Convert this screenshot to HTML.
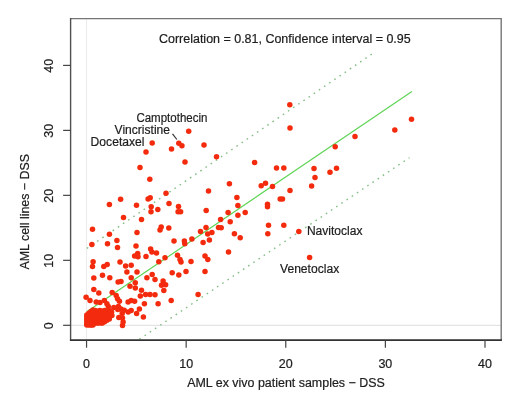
<!DOCTYPE html>
<html lang="en"><head><meta charset="utf-8"><title>AML DSS correlation</title>
<style>html,body{margin:0;padding:0;background:#fff;overflow:hidden}svg{display:block}text{font-family:"Liberation Sans",Arial,Helvetica,sans-serif;font-size:12.5px;fill:#202020;stroke:#202020;stroke-width:0.2px}</style>
</head><body>
<svg width="520" height="408" viewBox="0 0 520 408">
<defs><filter id="soft" x="0" y="0" width="520" height="408" filterUnits="userSpaceOnUse"><feGaussianBlur stdDeviation="0.5"/></filter></defs>
<rect width="520" height="408" fill="#ffffff"/>
<g filter="url(#soft)">
<line x1="86.55" y1="18.6" x2="86.55" y2="340.2" stroke="#ececec" stroke-width="1"/>
<line x1="70.6" y1="325.3" x2="501.2" y2="325.3" stroke="#dedede" stroke-width="1"/>
<line x1="86.75" y1="311.8" x2="411.9" y2="91.5" stroke="#5fd455" stroke-width="1.2"/>
<g stroke="#84bd86" stroke-width="1.4" stroke-dasharray="1.6 4.64" fill="none">
<line x1="86.9" y1="248.4" x2="372" y2="53.96"/>
<line x1="139.4" y1="339.2" x2="409.4" y2="157.7"/>
</g>
<g fill="#f32b0a">
<circle cx="93.8" cy="289.4" r="2.75"/>
<circle cx="98.8" cy="293.1" r="2.75"/>
<circle cx="86.1" cy="297.3" r="2.75"/>
<circle cx="90.0" cy="300.6" r="2.75"/>
<circle cx="112.2" cy="292.5" r="2.75"/>
<circle cx="116.2" cy="295.6" r="2.75"/>
<circle cx="117.5" cy="298.8" r="2.75"/>
<circle cx="119.4" cy="301.2" r="2.75"/>
<circle cx="130.0" cy="286.2" r="2.75"/>
<circle cx="135.3" cy="288.0" r="2.75"/>
<circle cx="141.5" cy="290.3" r="2.75"/>
<circle cx="128.1" cy="301.9" r="2.75"/>
<circle cx="131.2" cy="300.6" r="2.75"/>
<circle cx="134.6" cy="301.2" r="2.75"/>
<circle cx="144.4" cy="303.8" r="2.75"/>
<circle cx="139.4" cy="309.0" r="2.75"/>
<circle cx="136.6" cy="313.4" r="2.75"/>
<circle cx="131.2" cy="310.6" r="2.75"/>
<circle cx="128.2" cy="311.9" r="2.75"/>
<circle cx="143.4" cy="316.9" r="2.75"/>
<circle cx="96.2" cy="301.9" r="2.75"/>
<circle cx="100.0" cy="302.5" r="2.75"/>
<circle cx="104.4" cy="300.6" r="2.75"/>
<circle cx="106.9" cy="303.8" r="2.75"/>
<circle cx="113.8" cy="307.5" r="2.75"/>
<circle cx="117.8" cy="309.4" r="2.75"/>
<circle cx="121.0" cy="309.0" r="2.75"/>
<circle cx="124.2" cy="310.3" r="2.75"/>
<circle cx="118.4" cy="306.4" r="2.75"/>
<circle cx="122.2" cy="313.4" r="2.75"/>
<circle cx="111.6" cy="312.0" r="2.75"/>
<circle cx="111.9" cy="315.6" r="2.75"/>
<circle cx="108.3" cy="306.4" r="2.75"/>
<circle cx="118.8" cy="317.5" r="2.75"/>
<circle cx="122.5" cy="318.1" r="2.75"/>
<circle cx="123.1" cy="321.9" r="2.75"/>
<circle cx="122.5" cy="325.6" r="2.75"/>
<circle cx="140.3" cy="296.0" r="2.75"/>
<circle cx="145.6" cy="294.5" r="2.75"/>
<circle cx="150.0" cy="294.4" r="2.75"/>
<circle cx="155.0" cy="294.8" r="2.75"/>
<circle cx="163.8" cy="290.6" r="2.75"/>
<circle cx="158.1" cy="303.8" r="2.75"/>
<circle cx="171.2" cy="300.6" r="2.75"/>
<circle cx="198.1" cy="294.4" r="2.75"/>
<circle cx="161.5" cy="285.3" r="2.75"/>
<circle cx="165.6" cy="284.7" r="2.75"/>
<circle cx="163.1" cy="280.9" r="2.75"/>
<circle cx="203.1" cy="242.5" r="2.75"/>
<circle cx="209.4" cy="240.0" r="2.75"/>
<circle cx="240.2" cy="237.8" r="2.75"/>
<circle cx="228.5" cy="251.9" r="2.75"/>
<circle cx="205.0" cy="255.9" r="2.75"/>
<circle cx="207.8" cy="259.6" r="2.75"/>
<circle cx="205.0" cy="271.5" r="2.75"/>
<circle cx="234.4" cy="233.8" r="2.75"/>
<circle cx="200.5" cy="231.5" r="2.75"/>
<circle cx="207.7" cy="234.0" r="2.75"/>
<circle cx="211.9" cy="232.5" r="2.75"/>
<circle cx="91.9" cy="244.6" r="2.75"/>
<circle cx="107.5" cy="243.8" r="2.75"/>
<circle cx="109.4" cy="234.2" r="2.75"/>
<circle cx="116.9" cy="240.5" r="2.75"/>
<circle cx="117.5" cy="247.5" r="2.75"/>
<circle cx="93.1" cy="261.8" r="2.75"/>
<circle cx="92.5" cy="266.5" r="2.75"/>
<circle cx="103.8" cy="266.5" r="2.75"/>
<circle cx="107.2" cy="264.6" r="2.75"/>
<circle cx="120.0" cy="262.1" r="2.75"/>
<circle cx="125.6" cy="265.9" r="2.75"/>
<circle cx="131.2" cy="265.2" r="2.75"/>
<circle cx="126.9" cy="272.1" r="2.75"/>
<circle cx="93.8" cy="278.1" r="2.75"/>
<circle cx="102.5" cy="275.2" r="2.75"/>
<circle cx="109.8" cy="277.8" r="2.75"/>
<circle cx="118.1" cy="282.1" r="2.75"/>
<circle cx="121.0" cy="281.5" r="2.75"/>
<circle cx="131.2" cy="277.8" r="2.75"/>
<circle cx="136.0" cy="246.0" r="2.75"/>
<circle cx="134.6" cy="255.9" r="2.75"/>
<circle cx="137.7" cy="253.4" r="2.75"/>
<circle cx="138.0" cy="256.8" r="2.75"/>
<circle cx="146.0" cy="256.5" r="2.75"/>
<circle cx="150.6" cy="249.0" r="2.75"/>
<circle cx="151.9" cy="252.1" r="2.75"/>
<circle cx="156.5" cy="253.0" r="2.75"/>
<circle cx="158.8" cy="261.8" r="2.75"/>
<circle cx="165.0" cy="257.8" r="2.75"/>
<circle cx="174.0" cy="240.9" r="2.75"/>
<circle cx="184.4" cy="240.9" r="2.75"/>
<circle cx="184.8" cy="243.8" r="2.75"/>
<circle cx="191.9" cy="239.0" r="2.75"/>
<circle cx="177.5" cy="255.2" r="2.75"/>
<circle cx="180.0" cy="259.6" r="2.75"/>
<circle cx="181.0" cy="262.1" r="2.75"/>
<circle cx="191.0" cy="261.5" r="2.75"/>
<circle cx="186.0" cy="271.5" r="2.75"/>
<circle cx="172.2" cy="272.8" r="2.75"/>
<circle cx="178.8" cy="275.0" r="2.75"/>
<circle cx="137.0" cy="272.0" r="2.75"/>
<circle cx="146.9" cy="277.8" r="2.75"/>
<circle cx="152.2" cy="274.6" r="2.75"/>
<circle cx="155.0" cy="279.6" r="2.75"/>
<circle cx="135.3" cy="282.8" r="2.75"/>
<circle cx="309.6" cy="257.5" r="2.75"/>
<circle cx="272.5" cy="186.5" r="2.75"/>
<circle cx="290.0" cy="190.5" r="2.75"/>
<circle cx="311.6" cy="186.1" r="2.75"/>
<circle cx="280.2" cy="199.0" r="2.75"/>
<circle cx="282.5" cy="199.0" r="2.75"/>
<circle cx="267.5" cy="204.2" r="2.75"/>
<circle cx="267.5" cy="206.8" r="2.75"/>
<circle cx="268.5" cy="225.2" r="2.75"/>
<circle cx="283.8" cy="225.2" r="2.75"/>
<circle cx="298.8" cy="231.5" r="2.75"/>
<circle cx="267.8" cy="233.8" r="2.75"/>
<circle cx="120.6" cy="199.2" r="2.75"/>
<circle cx="109.4" cy="204.5" r="2.75"/>
<circle cx="123.5" cy="217.4" r="2.75"/>
<circle cx="92.5" cy="229.2" r="2.75"/>
<circle cx="136.5" cy="205.2" r="2.75"/>
<circle cx="148.1" cy="199.0" r="2.75"/>
<circle cx="150.2" cy="197.8" r="2.75"/>
<circle cx="166.0" cy="193.2" r="2.75"/>
<circle cx="169.0" cy="203.6" r="2.75"/>
<circle cx="151.2" cy="206.8" r="2.75"/>
<circle cx="151.0" cy="211.8" r="2.75"/>
<circle cx="157.8" cy="209.5" r="2.75"/>
<circle cx="178.5" cy="206.5" r="2.75"/>
<circle cx="178.1" cy="211.8" r="2.75"/>
<circle cx="180.6" cy="211.8" r="2.75"/>
<circle cx="141.5" cy="219.6" r="2.75"/>
<circle cx="160.0" cy="229.9" r="2.75"/>
<circle cx="161.2" cy="227.0" r="2.75"/>
<circle cx="168.8" cy="228.0" r="2.75"/>
<circle cx="137.0" cy="232.5" r="2.75"/>
<circle cx="208.5" cy="191.1" r="2.75"/>
<circle cx="229.4" cy="183.8" r="2.75"/>
<circle cx="261.2" cy="185.8" r="2.75"/>
<circle cx="265.5" cy="183.2" r="2.75"/>
<circle cx="236.9" cy="197.4" r="2.75"/>
<circle cx="237.9" cy="205.5" r="2.75"/>
<circle cx="206.2" cy="210.5" r="2.75"/>
<circle cx="228.1" cy="212.4" r="2.75"/>
<circle cx="245.2" cy="212.6" r="2.75"/>
<circle cx="237.9" cy="215.2" r="2.75"/>
<circle cx="220.6" cy="219.6" r="2.75"/>
<circle cx="230.2" cy="221.8" r="2.75"/>
<circle cx="218.5" cy="227.4" r="2.75"/>
<circle cx="221.2" cy="227.8" r="2.75"/>
<circle cx="206.0" cy="227.4" r="2.75"/>
<circle cx="355.0" cy="136.4" r="2.75"/>
<circle cx="335.2" cy="146.8" r="2.75"/>
<circle cx="336.5" cy="168.2" r="2.75"/>
<circle cx="330.0" cy="172.2" r="2.75"/>
<circle cx="394.8" cy="129.9" r="2.75"/>
<circle cx="411.5" cy="119.2" r="2.75"/>
<circle cx="152.2" cy="143.0" r="2.75"/>
<circle cx="146.0" cy="152.0" r="2.75"/>
<circle cx="171.5" cy="148.9" r="2.75"/>
<circle cx="178.8" cy="143.2" r="2.75"/>
<circle cx="181.9" cy="145.8" r="2.75"/>
<circle cx="188.7" cy="131.2" r="2.75"/>
<circle cx="185.0" cy="162.0" r="2.75"/>
<circle cx="140.0" cy="167.4" r="2.75"/>
<circle cx="149.8" cy="179.2" r="2.75"/>
<circle cx="204.0" cy="145.1" r="2.75"/>
<circle cx="216.5" cy="156.8" r="2.75"/>
<circle cx="254.6" cy="162.4" r="2.75"/>
<circle cx="276.5" cy="168.0" r="2.75"/>
<circle cx="283.8" cy="168.0" r="2.75"/>
<circle cx="314.0" cy="168.5" r="2.75"/>
<circle cx="315.0" cy="177.6" r="2.75"/>
<circle cx="289.8" cy="104.8" r="2.75"/>
<circle cx="290.0" cy="127.9" r="2.75"/>
<circle cx="86.8" cy="314.9" r="2.75"/>
<circle cx="86.8" cy="317.1" r="2.75"/>
<circle cx="86.8" cy="319.3" r="2.75"/>
<circle cx="86.8" cy="321.5" r="2.75"/>
<circle cx="86.8" cy="323.7" r="2.75"/>
<circle cx="86.8" cy="325.0" r="2.75"/>
<circle cx="88.9" cy="313.3" r="2.75"/>
<circle cx="88.9" cy="315.5" r="2.75"/>
<circle cx="88.9" cy="317.7" r="2.75"/>
<circle cx="88.9" cy="319.9" r="2.75"/>
<circle cx="88.9" cy="322.1" r="2.75"/>
<circle cx="88.9" cy="324.3" r="2.75"/>
<circle cx="88.9" cy="325.0" r="2.75"/>
<circle cx="91.0" cy="311.6" r="2.75"/>
<circle cx="91.0" cy="313.8" r="2.75"/>
<circle cx="91.0" cy="316.0" r="2.75"/>
<circle cx="91.0" cy="318.2" r="2.75"/>
<circle cx="91.0" cy="320.4" r="2.75"/>
<circle cx="91.0" cy="322.6" r="2.75"/>
<circle cx="91.0" cy="324.8" r="2.75"/>
<circle cx="91.0" cy="325.0" r="2.75"/>
<circle cx="93.0" cy="310.1" r="2.75"/>
<circle cx="93.0" cy="312.3" r="2.75"/>
<circle cx="93.0" cy="314.5" r="2.75"/>
<circle cx="93.0" cy="316.7" r="2.75"/>
<circle cx="93.0" cy="318.9" r="2.75"/>
<circle cx="93.0" cy="321.1" r="2.75"/>
<circle cx="93.0" cy="323.3" r="2.75"/>
<circle cx="93.0" cy="325.0" r="2.75"/>
<circle cx="95.2" cy="310.6" r="2.75"/>
<circle cx="95.2" cy="312.9" r="2.75"/>
<circle cx="95.2" cy="315.2" r="2.75"/>
<circle cx="95.2" cy="317.5" r="2.75"/>
<circle cx="95.2" cy="319.8" r="2.75"/>
<circle cx="95.2" cy="322.1" r="2.75"/>
<circle cx="95.2" cy="323.0" r="2.75"/>
<circle cx="97.5" cy="311.2" r="2.75"/>
<circle cx="97.5" cy="318.1" r="2.75"/>
<circle cx="97.5" cy="320.4" r="2.75"/>
<circle cx="97.5" cy="322.7" r="2.75"/>
<circle cx="97.5" cy="323.0" r="2.75"/>
<circle cx="99.9" cy="310.6" r="2.75"/>
<circle cx="99.9" cy="315.2" r="2.75"/>
<circle cx="99.9" cy="317.5" r="2.75"/>
<circle cx="99.9" cy="319.8" r="2.75"/>
<circle cx="99.9" cy="322.1" r="2.75"/>
<circle cx="99.9" cy="323.0" r="2.75"/>
<circle cx="102.2" cy="311.2" r="2.75"/>
<circle cx="102.2" cy="313.5" r="2.75"/>
<circle cx="102.2" cy="315.8" r="2.75"/>
<circle cx="102.2" cy="318.1" r="2.75"/>
<circle cx="102.2" cy="320.4" r="2.75"/>
<circle cx="102.2" cy="322.7" r="2.75"/>
<circle cx="102.2" cy="323.0" r="2.75"/>
<circle cx="104.6" cy="310.6" r="2.75"/>
<circle cx="104.6" cy="312.9" r="2.75"/>
<circle cx="104.6" cy="315.2" r="2.75"/>
<circle cx="104.6" cy="317.5" r="2.75"/>
<circle cx="104.6" cy="319.8" r="2.75"/>
<circle cx="104.6" cy="321.7" r="2.75"/>
<circle cx="106.9" cy="311.2" r="2.75"/>
<circle cx="106.9" cy="313.5" r="2.75"/>
<circle cx="106.9" cy="315.8" r="2.75"/>
<circle cx="106.9" cy="318.1" r="2.75"/>
<circle cx="106.9" cy="320.3" r="2.75"/>
<circle cx="109.3" cy="310.6" r="2.75"/>
<circle cx="109.3" cy="312.9" r="2.75"/>
<circle cx="109.3" cy="315.2" r="2.75"/>
<circle cx="109.3" cy="317.5" r="2.75"/>
<circle cx="109.3" cy="318.9" r="2.75"/>
</g>
<path d="M70.6 18.6H501.2V340.2" fill="none" stroke="#767676" stroke-width="1.4"/>
<path d="M70.6 17.900000000000002V340.2" fill="none" stroke="#505050" stroke-width="1.4"/>
<path d="M69.89999999999999 340.2H501.9" fill="none" stroke="#333333" stroke-width="1.7"/>
<g stroke="#444444" stroke-width="1.2">
<line x1="86.55" y1="340.2" x2="86.55" y2="347.7"/>
<line x1="70.6" y1="325.30" x2="63.099999999999994" y2="325.30"/>
<line x1="186.16" y1="340.2" x2="186.16" y2="347.7"/>
<line x1="70.6" y1="260.33" x2="63.099999999999994" y2="260.33"/>
<line x1="285.77" y1="340.2" x2="285.77" y2="347.7"/>
<line x1="70.6" y1="195.35" x2="63.099999999999994" y2="195.35"/>
<line x1="385.38" y1="340.2" x2="385.38" y2="347.7"/>
<line x1="70.6" y1="130.38" x2="63.099999999999994" y2="130.38"/>
<line x1="484.99" y1="340.2" x2="484.99" y2="347.7"/>
<line x1="70.6" y1="65.40" x2="63.099999999999994" y2="65.40"/>
</g>
<text x="86.55" y="368" text-anchor="middle">0</text>
<text x="186.16" y="368" text-anchor="middle">10</text>
<text x="285.77" y="368" text-anchor="middle">20</text>
<text x="385.38" y="368" text-anchor="middle">30</text>
<text x="484.99" y="368" text-anchor="middle">40</text>
<text transform="translate(52.9 325.70) rotate(-90)" text-anchor="middle">0</text>
<text transform="translate(52.9 260.73) rotate(-90)" text-anchor="middle">10</text>
<text transform="translate(52.9 195.75) rotate(-90)" text-anchor="middle">20</text>
<text transform="translate(52.9 130.78) rotate(-90)" text-anchor="middle">30</text>
<text transform="translate(52.9 65.80) rotate(-90)" text-anchor="middle">40</text>
<text x="159" y="43.4" textLength="251.7" lengthAdjust="spacingAndGlyphs">Correlation = 0.81, Confidence interval = 0.95</text>
<text x="187.2" y="387" textLength="197.6" lengthAdjust="spacingAndGlyphs">AML ex vivo patient samples − DSS</text>
<text transform="translate(29 269.5) rotate(-90)" textLength="115.5" lengthAdjust="spacingAndGlyphs">AML cell lines − DSS</text>
<g style="font-size:12px">
<text x="136.4" y="121.9" textLength="71" lengthAdjust="spacingAndGlyphs">Camptothecin</text>
<text x="114.6" y="134.3" textLength="55.4" lengthAdjust="spacingAndGlyphs">Vincristine</text>
<text x="90.6" y="146.3" textLength="53.9" lengthAdjust="spacingAndGlyphs">Docetaxel</text>
<text x="306.9" y="235.1" textLength="55.6" lengthAdjust="spacingAndGlyphs">Navitoclax</text>
<text x="280" y="272.5" textLength="59.2" lengthAdjust="spacingAndGlyphs">Venetoclax</text>
</g>
<line x1="172.5" y1="133.9" x2="176.9" y2="139.5" stroke="#333" stroke-width="1.2"/>
</g>
</svg>
</body></html>
